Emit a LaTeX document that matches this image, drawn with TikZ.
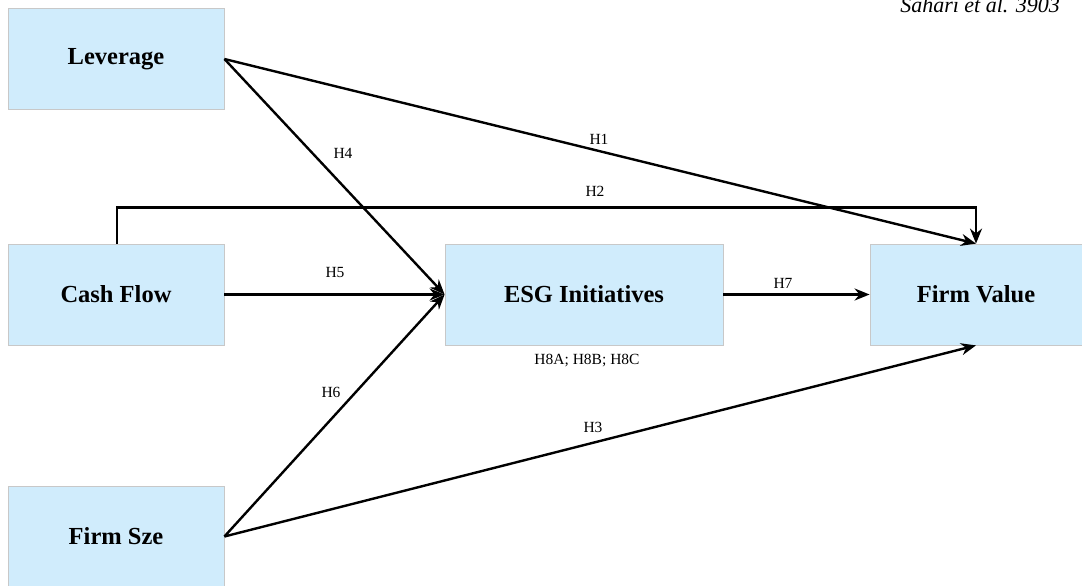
\documentclass[tikz,border=0pt]{standalone}
\usepackage{fontspec}
\setmainfont{Liberation Serif}
\usetikzlibrary{arrows.meta}
\definecolor{boxfill}{RGB}{208,236,252}
\definecolor{boxline}{RGB}{200,200,200}
\tikzset{
  var/.style={draw=boxline, line width=0.8pt, fill=boxfill, minimum width=216pt, minimum height=101pt, inner sep=0pt, font=\fontsize{24.5}{27}\selectfont\bfseries},
  conn/.style={line width=2.4pt, -{Stealth[length=15pt,width=12pt]}},
  hlab/.style={font=\fontsize{15.5}{17}\selectfont, inner sep=1pt}
}
\begin{document}
\begin{tikzpicture}[x=1pt,y=-1pt]
\useasboundingbox (0,0) rectangle (1082,586);
\node[var] (lev) at (116,59) {Leverage};
\node[var] (cf) at (116,294.5) {Cash Flow};
\node[var] (fs) at (116,536.5) {Firm Sze};
\node[var, minimum width=278pt] (esg) at (584,294.5) {ESG Initiatives};
\node[var, minimum width=212pt] (fv) at (976,294.5) {Firm Value};
\node[anchor=base, font=\fontsize{22}{24}\selectfont\itshape, inner sep=0pt] (src) at (980,13) {Sahari et al. 3903};
\coordinate (cfup) at ([xshift=1pt]cf.north);
\draw[conn] (lev.east) -- (fv.north);
\draw[conn] (lev.east) -- (esg.west);
\draw[conn] (cfup) -- ++(0,-36) -| (fv.north);
\draw[conn] (cf.east) -- (esg.west);
\draw[conn] (esg.east) -- (fv.west);
\draw[conn] (fs.east) -- (esg.west);
\draw[conn] (fs.east) -- (fv.south);
\node[hlab] (h1) at (599,139) {H1};
\node[hlab] (h2) at (595,191) {H2};
\node[hlab] (h4) at (343,153) {H4};
\node[hlab] (h5) at (335,272) {H5};
\node[hlab] (h7) at (783,283) {H7};
\node[hlab] (h6) at (331,392) {H6};
\node[hlab] (h3) at (593,427) {H3};
\node[hlab] (h8) at (587,361) {H8A; H8B; H8C};
\end{tikzpicture}
\end{document}
